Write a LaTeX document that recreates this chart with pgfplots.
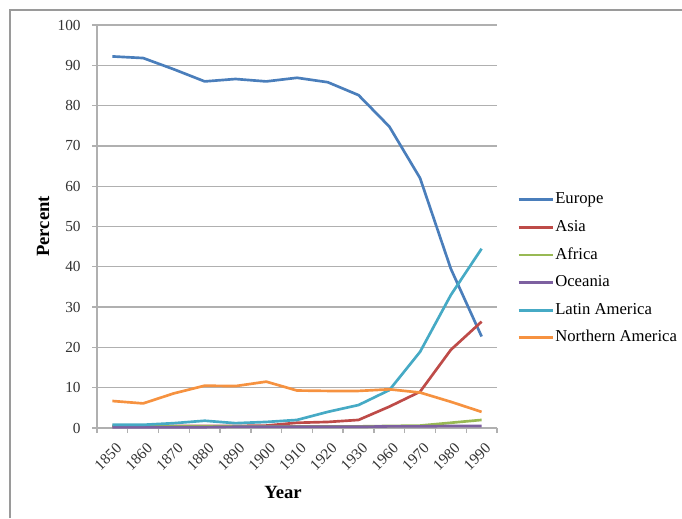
\documentclass[border=0pt]{standalone}
\usepackage{pgfplots}
\pgfplotsset{compat=1.18}
\usepackage{fontspec}
\setmainfont{Liberation Serif}

\definecolor{cEurope}{HTML}{4A7EBB}
\definecolor{cAsia}{HTML}{BE4B48}
\definecolor{cAfrica}{HTML}{98B954}
\definecolor{cOceania}{HTML}{7D60A0}
\definecolor{cLatin}{HTML}{46AAC5}
\definecolor{cNorth}{HTML}{F69240}
\definecolor{cGrid}{HTML}{B0B0B0}
\definecolor{cFrame}{HTML}{9A9A9A}

% Share of each region, one row per decade (idx = category position)
\pgfplotstableread{
idx Europe Asia Africa Oceania Latin North
0   92.2   0.5  0.4    0.2     0.8   6.7
1   91.8   0.5  0.4    0.2     0.8   6.1
2   89.0   0.5  0.4    0.2     1.2   8.6
3   86.0   0.5  0.4    0.2     1.8   10.5
4   86.6   0.5  0.4    0.3     1.2   10.4
5   86.0   0.6  0.4    0.3     1.5   11.5
6   86.9   1.3  0.4    0.3     2.0   9.3
7   85.8   1.5  0.4    0.3     4.0   9.2
8   82.6   2.0  0.4    0.3     5.7   9.2
9   74.8   5.3  0.5    0.4     9.4   9.6
10  62.0   9.0  0.6    0.4     18.9  8.8
11  39.5   19.4 1.3    0.5     33.0  6.5
12  22.7   26.4 2.0    0.5     44.5  4.0
}\regions

\begin{document}
\begin{tikzpicture}[x=1pt,y=1pt]
\path[use as bounding box] (0,0) rectangle (511.5,388.5);
% chart frame
\draw[cFrame, line width=1pt] (7.5,0) -- (7.5,381) -- (511.5,381);
\begin{axis}[
  at={(72.75pt,67.5pt)}, anchor=south west,
  scale only axis, width=300pt, height=302.25pt,
  xmin=-0.5, xmax=12.5, ymin=0, ymax=100,
  axis lines*=left,
  axis line style={cGrid, line width=1pt, -},
  tick align=outside,
  major tick length=3.75pt,
  tick style={cGrid, line width=1pt},
  xtick={-0.5,0.5,...,12.5}, xticklabels={},
  extra x ticks={0,1,...,12},
  extra x tick labels={1850,1860,1870,1880,1890,1900,1910,1920,1930,1960,1970,1980,1990},
  extra x tick style={major tick length=0pt,
    tick label style={rotate=45, anchor=north east, yshift=-5.5pt, xshift=-2.5pt,
      font=\fontsize{11.5}{12}\selectfont, text=black!80}},
  ytick={0,10,...,100},
  yticklabel style={font=\fontsize{11.5}{12}\selectfont, text=black!80, xshift=-5pt},
  /pgf/number format/assume math mode=true,
  ymajorgrids,
  grid style={cGrid, line width=1pt},
  xlabel={Year}, ylabel={Percent},
  xlabel style={at={(rel axis cs:0.465,-0.159)}, anchor=center, font=\bfseries\fontsize{14}{16}\selectfont},
  ylabel style={at={(rel axis cs:-0.135,0.5)}, anchor=center, font=\bfseries\fontsize{14}{16}\selectfont},
  legend style={at={(rel axis cs:1.04,0.595)}, anchor=north west, draw=none, fill=none,
    font=\fontsize{12.5}{14}\selectfont, row sep=7.7pt,
    nodes={inner sep=0.5pt, text height=9pt, text depth=3pt}},
  legend cell align=left,
  legend image code/.code={\draw[#1, line width=2pt] (0pt,0pt) -- (26pt,0pt);},
  every axis plot/.append style={line width=2pt, line join=round},
]
\addplot[cEurope]  table[x=idx, y=Europe]  {\regions};
\addplot[cAsia]    table[x=idx, y=Asia]    {\regions};
\addplot[cAfrica]  table[x=idx, y=Africa]  {\regions};
\addplot[cOceania] table[x=idx, y=Oceania] {\regions};
\addplot[cLatin]   table[x=idx, y=Latin]   {\regions};
\addplot[cNorth]   table[x=idx, y=North]   {\regions};
\legend{Europe, Asia, Africa, Oceania, Latin America, Northern America}
\end{axis}
\end{tikzpicture}
\end{document}
